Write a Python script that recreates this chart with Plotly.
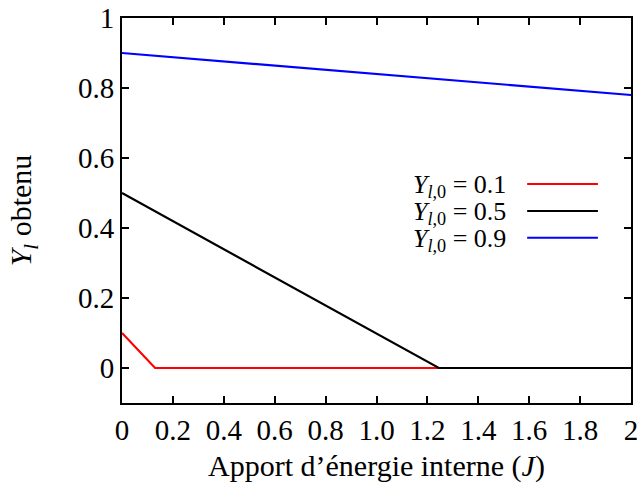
import plotly.graph_objects as go

# data
x_red = [0.0, 0.13, 2.0]
y_red = [0.1, 0.0, 0.0]
x_black = [0.0, 1.245, 2.0]
y_black = [0.5, 0.0, 0.0]
x_blue = [0.0, 2.0]
y_blue = [0.9, 0.78]
series_names = ["<i>Y</i><sub><i>l</i>,0</sub> = 0.1",
                "<i>Y</i><sub><i>l</i>,0</sub> = 0.5",
                "<i>Y</i><sub><i>l</i>,0</sub> = 0.9"]
series_colors = ["#ff0000", "#000000", "#0000ff"]
x_tickvals = [0, 0.2, 0.4, 0.6, 0.8, 1.0, 1.2, 1.4, 1.6, 1.8, 2.0]
x_ticktext = ["0", "0.2", "0.4", "0.6", "0.8", "1.0", "1.2", "1.4", "1.6", "1.8", "2"]
y_tickvals = [0, 0.2, 0.4, 0.6, 0.8, 1.0]
y_ticktext = ["0", "0.2", "0.4", "0.6", "0.8", "1"]

FONT = "Liberation Serif"

fig = go.Figure()
for xs, ys, name, col in [(x_red, y_red, series_names[0], series_colors[0]),
                          (x_blue, y_blue, series_names[2], series_colors[2]),
                          (x_black, y_black, series_names[1], series_colors[1])]:
    fig.add_trace(go.Scatter(x=xs, y=ys, mode="lines", name=name,
                             line=dict(color=col, width=2.2), showlegend=False))

# legend (gnuplot style: text then line sample)
for i, (name, col) in enumerate(zip(series_names, series_colors)):
    yl = [0.569, 0.499, 0.429][i]
    fig.add_annotation(x=0.758, y=yl - 0.006, xref="paper", yref="paper", text=name,
                       showarrow=False, xanchor="right", yanchor="middle",
                       font=dict(family=FONT, size=26, color="black"))
    fig.add_shape(type="line", xref="paper", yref="paper",
                  x0=0.796, x1=0.935, y0=yl, y1=yl,
                  line=dict(color=col, width=2))

axis_common = dict(showline=True, linecolor="black", linewidth=2, mirror="ticks",
                   ticks="inside", ticklen=7, tickwidth=1.5, tickcolor="black",
                   showgrid=False, zeroline=False, automargin=False,
                   ticklabeloverflow="allow",
                   tickfont=dict(family=FONT, size=29, color="black"))

fig.update_xaxes(range=[0, 2], tickvals=x_tickvals, ticktext=x_ticktext,
                 title=dict(text="Apport d’énergie interne (<i>J</i>)",
                            font=dict(family=FONT, size=30, color="black"), standoff=10),
                 **axis_common)
fig.update_yaxes(range=[-0.1, 1], tickvals=y_tickvals, ticktext=y_ticktext,
                 title=dict(text="<i>Y<sub>l</sub></i> obtenu",
                            font=dict(family=FONT, size=30, color="black"), standoff=37),
                 **axis_common)

fig.update_layout(width=640, height=491, plot_bgcolor="white", paper_bgcolor="white",
                  margin=dict(l=122, r=9, t=18, b=88),
                  font=dict(family=FONT, color="black"))

fig.write_html("out.html", config={"displayModeBar": False},
               post_script="document.body.style.margin='0';document.body.style.overflow='hidden';")
